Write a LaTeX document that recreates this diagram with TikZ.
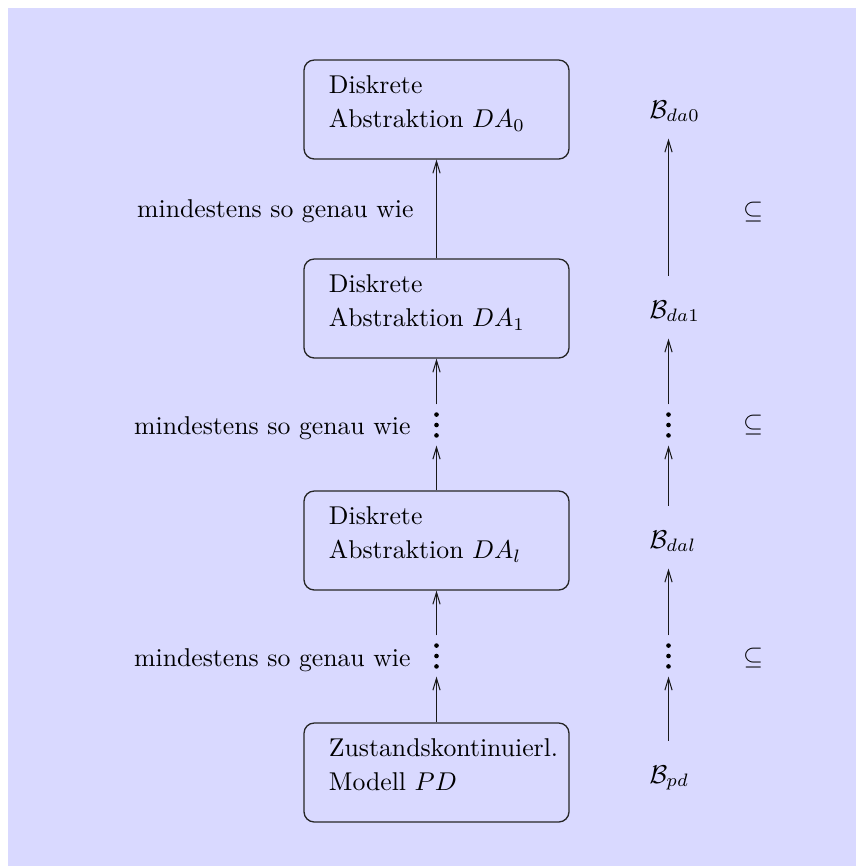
\documentclass[tikz,border=0pt]{standalone}
\usetikzlibrary{arrows.meta}
\definecolor{bgpanel}{RGB}{217,217,255}

% two-line caption of a model box, set flush left from the top
\newcommand\boxlines[2]{\parbox[c][38.48pt][t]{103pt}{\raggedright\leftskip=9.7pt
  \fontsize{10}{13.2}\selectfont\rule{0pt}{13pt}#1\\#2}}

\begin{document}
\begin{tikzpicture}[x=0.38865pt,y=-0.38865pt,
  abox/.style={draw=black!85, line width=0.5pt, rounded corners=4pt,
    inner sep=0pt, minimum width=103pt, minimum height=38.48pt},
  conn/.style={draw=black!90, line width=0.4pt,
    -{Straight Barb[length=4.6pt,width=2.8pt]}},
  rel/.style={anchor=base east, inner sep=0pt},
  blabel/.style={anchor=base west, inner sep=0pt, text height=16.3pt, text depth=7.8pt},
  dotcol/.style={inner sep=0pt, minimum width=4pt, minimum height=15.6pt,
    path picture={
      \fill (path picture bounding box.center) circle (0.9pt);
      \fill ([yshift=4.05pt]path picture bounding box.center) circle (0.9pt);
      \fill ([yshift=-4.05pt]path picture bounding box.center) circle (0.9pt);
    }},
  subs/.style={inner sep=0pt}
]
\useasboundingbox (0,0) rectangle (856,866);
\fill[bgpanel] (8,8) rectangle (856,866);

% chain of models
\node[abox] (b0) at (436.5,109.5) {\boxlines{Diskrete}{Abstraktion $DA_0$}};
\node[abox] (b1) at (436.5,308.5) {\boxlines{Diskrete}{Abstraktion $DA_1$}};
\node[abox] (b2) at (436.5,540.5) {\boxlines{Diskrete}{Abstraktion $DA_l$}};
\node[abox] (b3) at (436.5,772.5) {\boxlines{Zustandskontinuierl.}{Modell $PD$}};

\node[dotcol] (vl1) at (436.5,425) {};
\node[dotcol] (vl2) at (436.5,656) {};

\draw[conn] (b1) -- (b0);
\draw[conn] (vl1) -- (b1);
\draw[conn] (b2) -- (vl1);
\draw[conn] (vl2) -- (b2);
\draw[conn] (b3) -- (vl2);

\node[rel] (m0) at (414,217.7) {mindestens so genau wie};
\node[rel] (m1) at (411,434) {mindestens so genau wie};
\node[rel] (m2) at (411,666) {mindestens so genau wie};

% behaviours
\coordinate (rcol) at (668.5,0);
\node[blabel] (Bda0) at (649,118) {$\mathcal{B}_{da0}$};
\node[blabel] (Bda1) at (649,318) {$\mathcal{B}_{da1}$};
\node[blabel] (Bdal) at (649,548) {$\mathcal{B}_{dal}$};
\node[blabel] (Bpd)  at (649,783) {$\mathcal{B}_{pd}$};

\node[dotcol] (vr1) at (668.5,425) {};
\node[dotcol] (vr2) at (668.5,656) {};

\draw[conn] (Bda1.north -| rcol) -- (Bda0.south -| rcol);
\draw[conn] (vr1) -- (Bda1.south -| rcol);
\draw[conn] (Bdal.north -| rcol) -- (vr1);
\draw[conn] (vr2) -- (Bdal.south -| rcol);
\draw[conn] (Bpd.north -| rcol) -- (vr2);

\node[subs] (s0) at (753,212.5) {$\subseteq$};
\node[subs] (s1) at (753,425) {$\subseteq$};
\node[subs] (s2) at (753,658) {$\subseteq$};
\end{tikzpicture}
\end{document}
